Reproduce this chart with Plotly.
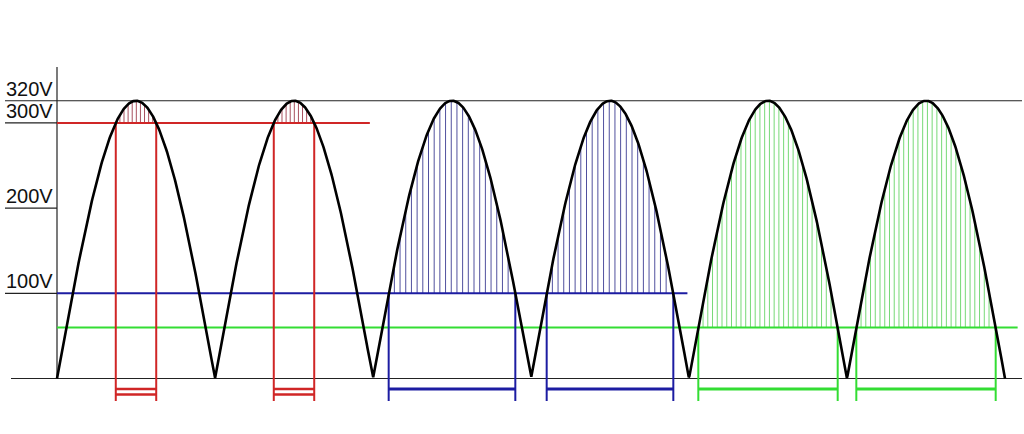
import numpy as np
import plotly.graph_objects as go

# ---- data ----
peak_volts = 326                      # peak of rectified mains sine (drawn at the "320V" line)
half_cycles = 6                       # number of humps
tick_labels = ["320V", "300V", "200V", "100V"]
tick_values = [326, 300, 200, 100]
group_names = ["red", "blue", "green"]
group_thresholds = [300, 100, 60]
group_humps = [[0, 1], [2, 3], [4, 5]]
group_line_end = [1.98, 3.99, 6.08]
group_colors = ["#d02626", "#1c1ca2", "#33dd33"]
group_hatch_colors = ["#a8505e", "#50509e", "#77d977"]
group_hatch_step = [0.026, 0.036, 0.030]

# ---- geometry (page pixels -> data) ----
PX_T = 158.0      # pixels per half cycle
X0 = 57.0         # page pixel of t = 0
PX_V = 0.852      # pixels per volt
Y0 = 378.5        # page pixel of 0 V
W, H = 1024, 434

def px_to_t(px):
    return (px - X0) / PX_T

def px_to_v(py):
    return (Y0 - py) / PX_V

fig = go.Figure()

def add_line(xs, ys, color, width):
    fig.add_trace(go.Scatter(x=xs, y=ys, mode="lines",
                             line=dict(color=color, width=width),
                             hoverinfo="skip", showlegend=False))

# thin reference lines
add_line([px_to_t(5), px_to_t(1022)], [peak_volts, peak_volts], "#222222", 1.2)   # 320V line
add_line([px_to_t(11), px_to_t(1022)], [0, 0], "#222222", 1.2)                    # baseline
add_line([0, 0], [0, px_to_v(67)], "#222222", 1.2)                                 # vertical axis
for v in tick_values[1:]:
    add_line([px_to_t(5), 0], [v, v], "#222222", 1.2)

bar_v1 = px_to_v(389)
bar_v2 = px_to_v(394.5)
vert_bottom = px_to_v(401)

# hatching first (under the curve)
for gi in range(len(group_names)):
    th = group_thresholds[gi]
    frac = np.arcsin(th / peak_volts) / np.pi
    hx, hy = [], []
    for k in group_humps[gi]:
        t1, t2 = k + frac, k + 1 - frac
        step = group_hatch_step[gi]
        for t in np.arange(t1 + step, t2 - step * 0.5, step):
            top = peak_volts * np.sin(np.pi * (t - k))
            hx += [t, t, None]
            hy += [th, top, None]
    add_line(hx, hy, group_hatch_colors[gi], 1)

# threshold lines
for gi in range(len(group_names)):
    th = group_thresholds[gi]
    add_line([0, group_line_end[gi]], [th, th], group_colors[gi], 2)

# verticals and bottom bars
for gi in range(len(group_names)):
    th = group_thresholds[gi]
    frac = np.arcsin(th / peak_volts) / np.pi
    vx, vy, bx, by = [], [], [], []
    for k in group_humps[gi]:
        t1, t2 = k + frac, k + 1 - frac
        vx += [t1, t1, None, t2, t2, None]
        vy += [th, vert_bottom, None, th, vert_bottom, None]
        bx += [t1, t2, None]
        by += [bar_v1, bar_v1, None]
        if gi == 0:
            bx += [t1, t2, None]
            by += [bar_v2, bar_v2, None]
    add_line(vx, vy, group_colors[gi], 2)
    add_line(bx, by, group_colors[gi], 2.8 if gi else 2.5)

# rectified sine curve
t = np.linspace(0, half_cycles, 1500)
v = peak_volts * np.abs(np.sin(np.pi * t))
add_line(t, v, "#000000", 2.6)

# labels
for lab, val in zip(tick_labels, tick_values):
    fig.add_annotation(x=px_to_t(4), y=val, xref="x", yref="y", text=lab,
                       showarrow=False, xanchor="left", yanchor="middle",
                       yshift=12, font=dict(family="Liberation Sans, Arial", size=20, color="#111111"))

fig.update_layout(
    width=W, height=H,
    margin=dict(l=0, r=0, t=0, b=0, pad=0),
    paper_bgcolor="white", plot_bgcolor="white",
    showlegend=False,
    xaxis=dict(visible=False, range=[px_to_t(0), px_to_t(W)], fixedrange=True),
    yaxis=dict(visible=False, range=[px_to_v(H), px_to_v(0)], fixedrange=True),
)

fig.write_html("out.html", config={"displayModeBar": False},
               post_script="document.body.style.margin='0px';document.body.style.overflow='hidden';")
